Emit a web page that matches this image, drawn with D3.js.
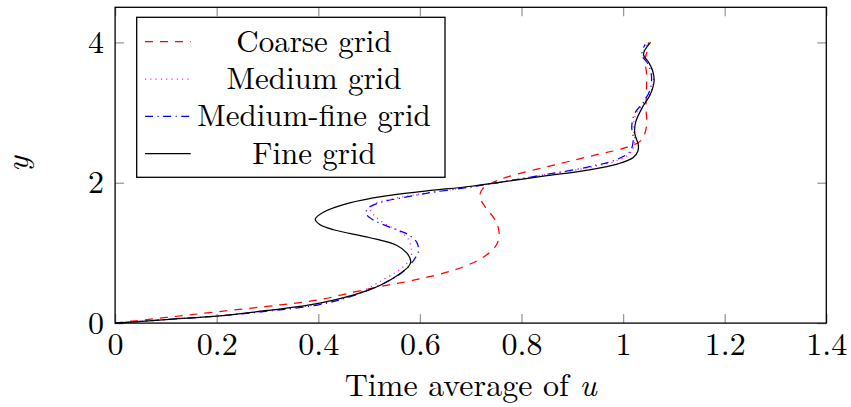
<!DOCTYPE html>
<html>
<head>
<meta charset="utf-8">
<script src="https://cdn.jsdelivr.net/npm/d3@7"></script>
<style>
  html, body { margin: 0; padding: 0; background: #fff; }
  svg { display: block; }
</style>
</head>
<body>
<svg id="chart" width="851" height="407"></svg>
<script>
// Time-averaged u profiles over y for four grid resolutions: [u, y]
const coarse = [
  [0, 0], [0.1, 0.08], [0.2, 0.16], [0.325, 0.26], [0.4, 0.33], [0.469, 0.44],
  [0.521, 0.52], [0.6, 0.63], [0.685, 0.8], [0.731, 0.97], [0.751, 1.12],
  [0.756, 1.28], [0.748, 1.47], [0.728, 1.66], [0.718, 1.8], [0.724, 1.92],
  [0.74, 1.99], [0.771, 2.08], [0.863, 2.25], [0.948, 2.4], [1.0, 2.49],
  [1.035, 2.6], [1.046, 2.8], [1.045, 3.08], [1.046, 3.32], [1.046, 3.56],
  [1.043, 3.75], [1.047, 3.87], [1.05, 4.0]
];
const medium = [
  [0, 0], [0.1, 0.05], [0.2, 0.1], [0.3, 0.175], [0.4, 0.27], [0.47, 0.4],
  [0.528, 0.62], [0.567, 0.8], [0.582, 0.93], [0.583, 1.05], [0.577, 1.2],
  [0.557, 1.32], [0.535, 1.4], [0.512, 1.52], [0.503, 1.62], [0.512, 1.7],
  [0.54, 1.76], [0.6, 1.84], [0.7, 1.94], [0.76, 2.01], [0.85, 2.12],
  [0.928, 2.21], [0.99, 2.32], [1.016, 2.44], [1.023, 2.62], [1.02, 2.8],
  [1.026, 2.99], [1.043, 3.15], [1.056, 3.32], [1.06, 3.51], [1.053, 3.68],
  [1.04, 3.82], [1.047, 3.98]
];
const mediumFine = [
  [0, 0], [0.1, 0.05], [0.2, 0.1], [0.3, 0.17], [0.4, 0.26], [0.469, 0.39],
  [0.538, 0.6], [0.57, 0.75], [0.59, 0.92], [0.597, 1.02], [0.594, 1.15],
  [0.575, 1.27], [0.554, 1.33], [0.508, 1.47], [0.494, 1.56], [0.498, 1.64],
  [0.528, 1.73], [0.561, 1.78], [0.613, 1.85], [0.7, 1.94], [0.76, 2.01],
  [0.85, 2.12], [0.928, 2.22], [0.987, 2.33], [1.014, 2.45], [1.02, 2.62],
  [1.017, 2.8], [1.023, 2.99], [1.04, 3.15], [1.053, 3.32], [1.056, 3.51],
  [1.05, 3.68], [1.037, 3.82], [1.043, 3.97]
];
const fine = [
  [0, 0], [0.1, 0.05], [0.2, 0.1], [0.3, 0.18], [0.4, 0.28], [0.495, 0.46],
  [0.525, 0.55], [0.56, 0.7], [0.578, 0.81], [0.582, 0.88], [0.574, 1.0],
  [0.554, 1.11], [0.5, 1.22], [0.43, 1.33], [0.402, 1.41], [0.394, 1.48],
  [0.41, 1.58], [0.46, 1.71], [0.53, 1.81], [0.61, 1.88], [0.7, 1.95],
  [0.76, 2.01], [0.85, 2.1], [0.93, 2.18], [0.99, 2.27], [1.02, 2.36],
  [1.029, 2.45], [1.03, 2.54], [1.023, 2.7], [1.025, 2.87], [1.04, 3.1],
  [1.053, 3.25], [1.061, 3.45], [1.058, 3.6], [1.05, 3.72], [1.04, 3.83],
  [1.054, 4.0]
];

const seriesNames = ["Coarse grid", "Medium grid", "Medium-fine grid", "Fine grid"];
const xTicks = [0, 0.2, 0.4, 0.6, 0.8, 1, 1.2, 1.4];
const yTicks = [0, 2, 4];
const xLabel = "Time average of ";
const xLabelVar = "u";
const yLabel = "y";

const series = [
  { name: seriesNames[0], data: coarse,     color: "#ff0000", dash: "8,7" },
  { name: seriesNames[1], data: medium,     color: "#ff00ff", dash: "1.1,4.2" },
  { name: seriesNames[2], data: mediumFine, color: "#0000ff", dash: "8,4.5,1.1,4.5" },
  { name: seriesNames[3], data: fine,       color: "#000000", dash: null }
];

const svg = d3.select("#chart");
const plotLeft = 115.1, plotRight = 826.3, plotTop = 7.3, plotBottom = 323.1;

const x = d3.scaleLinear().domain([0, 1.4]).range([plotLeft, plotRight]);
const y = d3.scaleLinear().domain([0, 4.5]).range([plotBottom, plotTop]);

const fontFamily = '"Latin Modern Roman", "Liberation Serif", serif';
const fontSize = 32;
const legendFontSize = 31;
const tickColor = "#9a9a9a";
const tickLen = 9;

// Axes with inward ticks on all four sides
function styleAxis(g) {
  g.select(".domain").remove();
  g.selectAll(".tick line").attr("stroke", tickColor).attr("stroke-width", 1.3);
  g.selectAll(".tick text")
    .style("font-family", fontFamily)
    .style("font-size", fontSize + "px")
    .attr("fill", "#000");
}

svg.append("g").attr("transform", `translate(0,${plotBottom})`)
  .call(d3.axisBottom(x).tickValues(xTicks).tickFormat(d3.format("")).tickSizeInner(-tickLen).tickSizeOuter(0).tickPadding(9.5))
  .call(styleAxis);
svg.append("g").attr("transform", `translate(0,${plotTop})`)
  .call(d3.axisTop(x).tickValues(xTicks).tickFormat("").tickSizeInner(-tickLen).tickSizeOuter(0))
  .call(styleAxis);
svg.append("g").attr("transform", `translate(${plotLeft},0)`)
  .call(d3.axisLeft(y).tickValues(yTicks).tickFormat(d3.format("")).tickSizeInner(-tickLen).tickSizeOuter(0).tickPadding(11))
  .call(styleAxis);
svg.append("g").attr("transform", `translate(${plotRight},0)`)
  .call(d3.axisRight(y).tickValues(yTicks).tickFormat("").tickSizeInner(-tickLen).tickSizeOuter(0))
  .call(styleAxis);

// Curves
const line = d3.line()
  .x(d => x(d[0]))
  .y(d => y(d[1]))
  .curve(d3.curveCatmullRom.alpha(0.5));

svg.append("g").selectAll("path.series")
  .data(series)
  .join("path")
  .attr("class", "series")
  .attr("d", d => line(d.data))
  .attr("fill", "none")
  .attr("stroke", d => d.color)
  .attr("stroke-width", 1.25)
  .attr("stroke-dasharray", d => d.dash);

// Frame
svg.append("rect")
  .attr("x", plotLeft).attr("y", plotTop)
  .attr("width", plotRight - plotLeft).attr("height", plotBottom - plotTop)
  .attr("fill", "none").attr("stroke", "#000").attr("stroke-width", 1.3);

// Axis titles
const xt = svg.append("text")
  .attr("x", x(0.7)).attr("y", 396)
  .attr("text-anchor", "middle")
  .style("font-family", fontFamily)
  .style("font-size", fontSize + "px");
xt.append("tspan").text(xLabel);
xt.append("tspan").style("font-style", "italic").text(xLabelVar);

svg.append("text")
  .attr("transform", `translate(28,164) rotate(-90)`)
  .attr("text-anchor", "middle")
  .style("font-family", fontFamily)
  .style("font-size", fontSize + "px")
  .style("font-style", "italic")
  .text(yLabel);

// Legend
const lg = svg.append("g");
lg.append("rect")
  .attr("x", 136.7).attr("y", 17.3)
  .attr("width", 445 - 136.7).attr("height", 177.3 - 17.3)
  .attr("fill", "#fff").attr("stroke", "#000").attr("stroke-width", 1.3);

const entry = lg.selectAll("g.entry")
  .data(series)
  .join("g")
  .attr("class", "entry")
  .attr("transform", (d, i) => `translate(0,${41.7 + i * 37.3})`);

entry.append("line")
  .attr("x1", 145).attr("x2", 190.7)
  .attr("y1", 0).attr("y2", 0)
  .attr("stroke", d => d.color)
  .attr("stroke-width", 1.25)
  .attr("stroke-dasharray", d => d.dash);

entry.append("text")
  .attr("x", 314).attr("y", 10)
  .attr("text-anchor", "middle")
  .style("font-family", fontFamily)
  .style("font-size", legendFontSize + "px")
  .text(d => d.name);
</script>
</body>
</html>
